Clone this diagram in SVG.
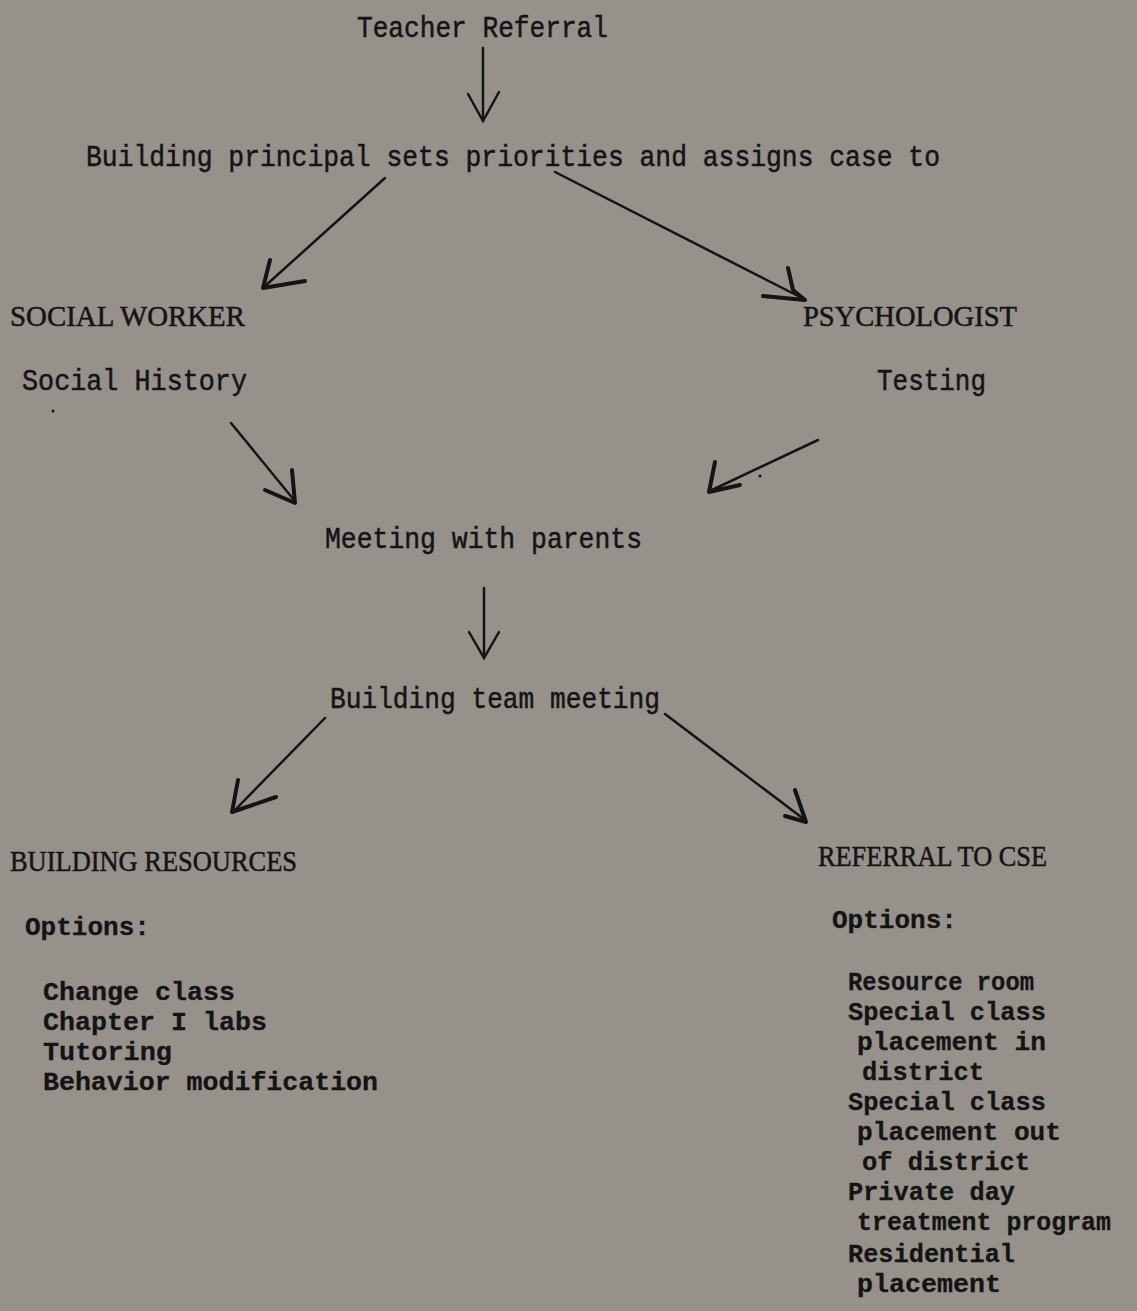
<svg xmlns="http://www.w3.org/2000/svg" width="1137" height="1311" viewBox="0 0 1137 1311">
<style>
.t{font-family:"Liberation Mono","DejaVu Sans Mono",monospace;font-size:29px;fill:#141414;stroke:#141414;stroke-width:0.5}
.b{font-weight:bold;stroke-width:0.3;font-size:26px}
.c{font-family:"Liberation Serif","DejaVu Serif",serif;font-size:29px;fill:#141414;stroke:#141414;stroke-width:0.5}
.ln{stroke:#141414;stroke-width:2.5;fill:none;stroke-linecap:round}
.hd{stroke:#141414;stroke-width:4;fill:none;stroke-linecap:round;stroke-linejoin:round}
</style>
<rect width="1137" height="1311" fill="#96918b"/>
<g id="teacher-referral"><text class="t" x="357" y="37" textLength="251" lengthAdjust="spacingAndGlyphs">Teacher Referral</text></g>
<g id="principal"><text class="t" x="86" y="166" textLength="854" lengthAdjust="spacingAndGlyphs">Building principal sets priorities and assigns case to</text></g>
<g id="social-worker">
<text class="c" x="10" y="326" textLength="235" lengthAdjust="spacingAndGlyphs">SOCIAL WORKER</text>
<text class="t" x="22" y="390" textLength="225" lengthAdjust="spacingAndGlyphs">Social History</text>
<circle cx="53" cy="411" r="1.5" fill="#141414"/>
</g>
<g id="psychologist">
<text class="c" x="803" y="326" textLength="214" lengthAdjust="spacingAndGlyphs">PSYCHOLOGIST</text>
<text class="t" x="877" y="390" textLength="109" lengthAdjust="spacingAndGlyphs">Testing</text>
<circle cx="760" cy="476" r="1.5" fill="#141414"/>
</g>
<g id="meeting-parents"><text class="t" x="325" y="548" textLength="317" lengthAdjust="spacingAndGlyphs">Meeting with parents</text></g>
<g id="team-meeting"><text class="t" x="330" y="708" textLength="330" lengthAdjust="spacingAndGlyphs">Building team meeting</text></g>
<g id="building-resources">
<text class="c" x="10" y="871" textLength="287" lengthAdjust="spacingAndGlyphs">BUILDING RESOURCES</text>
<text class="t b" x="25" y="935" textLength="125" lengthAdjust="spacingAndGlyphs">Options:</text>
<text class="t b" x="43" y="1000" textLength="192" lengthAdjust="spacingAndGlyphs">Change class</text>
<text class="t b" x="43" y="1030" textLength="224" lengthAdjust="spacingAndGlyphs">Chapter I labs</text>
<text class="t b" x="43" y="1060" textLength="129" lengthAdjust="spacingAndGlyphs">Tutoring</text>
<text class="t b" x="43" y="1090" textLength="335" lengthAdjust="spacingAndGlyphs">Behavior modification</text>
</g>
<g id="referral-cse">
<text class="c" x="818" y="866" textLength="229" lengthAdjust="spacingAndGlyphs">REFERRAL TO CSE</text>
<text class="t b" x="832" y="928" textLength="125" lengthAdjust="spacingAndGlyphs">Options:</text>
<text class="t b" x="848" y="990" textLength="186" lengthAdjust="spacingAndGlyphs">Resource room</text>
<text class="t b" x="848" y="1020" textLength="198" lengthAdjust="spacingAndGlyphs">Special class</text>
<text class="t b" x="857" y="1050" textLength="189" lengthAdjust="spacingAndGlyphs">placement in</text>
<text class="t b" x="862" y="1080" textLength="122" lengthAdjust="spacingAndGlyphs">district</text>
<text class="t b" x="848" y="1110" textLength="198" lengthAdjust="spacingAndGlyphs">Special class</text>
<text class="t b" x="857" y="1140" textLength="204" lengthAdjust="spacingAndGlyphs">placement out</text>
<text class="t b" x="862" y="1170" textLength="168" lengthAdjust="spacingAndGlyphs">of district</text>
<text class="t b" x="848" y="1200" textLength="167" lengthAdjust="spacingAndGlyphs">Private day</text>
<text class="t b" x="857" y="1230" textLength="254" lengthAdjust="spacingAndGlyphs">treatment program</text>
<text class="t b" x="848" y="1262" textLength="167" lengthAdjust="spacingAndGlyphs">Residential</text>
<text class="t b" x="857" y="1292" textLength="144" lengthAdjust="spacingAndGlyphs">placement</text>
</g>
<g id="connectors">
<line class="ln" x1="483" y1="48" x2="483" y2="120"/>
<path class="ln" d="M468 94 L483 121 L499 92"/>
<line class="ln" x1="385" y1="178" x2="264" y2="287"/>
<path class="hd" d="M270 260 L263 288 L305 281"/>
<line class="ln" x1="555" y1="172" x2="802" y2="298"/>
<path class="hd" d="M788 268 L793 290 L805 300 L763 296"/>
<line class="ln" x1="231" y1="423" x2="294" y2="500"/>
<path class="hd" d="M292 470 L295 503 L265 490"/>
<line class="ln" x1="818" y1="440" x2="712" y2="490"/>
<path class="hd" d="M715 462 L709 492 L740 485"/>
<line class="ln" x1="484" y1="588" x2="484" y2="655"/>
<path class="ln" d="M469 632 L484 658 L499 632"/>
<line class="ln" x1="325" y1="718" x2="235" y2="810"/>
<path class="hd" d="M238 780 L232 812 L276 797"/>
<line class="ln" x1="665" y1="714" x2="805" y2="820"/>
<path class="hd" d="M795 790 L806 822 L785 816"/>
</g>
</svg>
